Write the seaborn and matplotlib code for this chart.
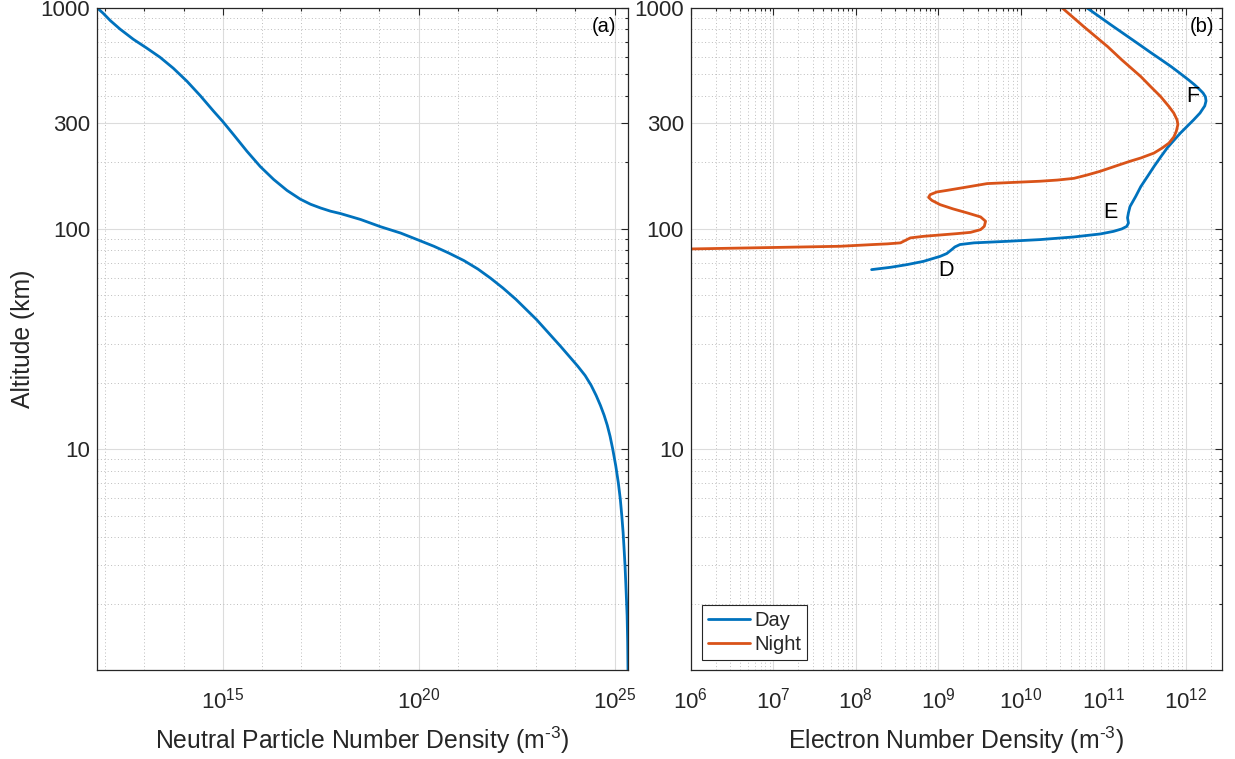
import matplotlib
matplotlib.use("Agg")
import numpy as np
import pandas as pd
import matplotlib.pyplot as plt
import seaborn as sns
from matplotlib.ticker import FixedLocator, FixedFormatter, LogLocator, NullFormatter

# ---------------- data ----------------
neutral_alt = [1000, 946, 877, 802, 721, 658, 598, 533, 465, 400, 340, 306, 266, 224,
               191, 167, 149, 136, 129, 124, 120, 117, 110, 102, 95.5, 89.1, 83.2,
               77.5, 71.7, 65.6, 59.7, 53.8, 47.8, 38.7, 29.3, 23.8, 21.6, 19.5,
               17.55, 15.8, 14.25, 12.85, 11.46, 10.0, 8.4, 7.06, 5.94, 4.99, 4.20,
               3.53, 2.96, 2.49, 2.09, 1.76, 1.33, 1.0]
neutral_density = [6.31e11, 8.91e11, 1.35e12, 2.40e12, 5.25e12, 1.15e13, 2.51e13,
                   5.50e13, 1.23e14, 2.69e14, 5.89e14, 1.0e15, 1.91e15, 4.17e15,
                   9.12e15, 2.0e16, 4.37e16, 9.55e16, 1.74e17, 3.16e17, 5.62e17,
                   1.02e18, 3.31e18, 1.07e19, 3.47e19, 9.33e19, 2.45e20,
                   5.89e20, 1.42e21, 3.25e21, 6.78e21, 1.42e22, 3.04e22, 1.02e23,
                   4.18e23, 1.15e24, 1.77e24, 2.52e24, 3.38e24, 4.36e24, 5.42e24,
                   6.51e24, 7.67e24, 8.99e24, 1.074e25, 1.245e25, 1.40e25, 1.53e25,
                   1.65e25, 1.75e25, 1.85e25, 1.93e25, 2.01e25, 2.09e25, 2.16e25,
                   2.20e25]

day_alt = [1000, 838, 680, 632, 582, 541, 502, 472, 449, 430, 412, 396, 379, 360,
           334, 311, 290, 271, 251, 232, 211, 191, 172, 155, 140, 126, 118, 112,
           106, 102.4, 99.7, 97.2, 94.6, 91.7, 89.2, 87.6, 86.2, 84.7, 82.6, 80.4,
           77.1, 74.9, 71.1, 68.7, 66.8, 65.2]
day_density = [6.31e10, 1.23e11, 2.75e11, 3.63e11, 5.01e11, 6.64e11, 8.65e11,
               1.07e12, 1.26e12, 1.43e12, 1.60e12, 1.71e12, 1.74e12, 1.68e12,
               1.47e12, 1.23e12, 1.02e12, 8.51e11, 7.08e11, 5.89e11, 4.90e11,
               4.07e11, 3.39e11, 2.82e11, 2.45e11, 2.09e11, 2.0e11, 1.95e11, 2.0e11,
               1.91e11, 1.66e11, 1.32e11, 9.12e10, 4.37e10, 1.70e10, 6.76e9, 2.69e9,
               1.82e9, 1.58e9, 1.45e9, 1.26e9, 1.05e9, 6.61e8, 4.17e8, 2.63e8, 1.55e8]

night_alt = [1000, 820, 668, 582, 533, 489, 440, 397, 358, 334, 311, 296, 276, 260,
             244, 232, 220, 209, 202, 193, 182, 175, 169, 166, 164, 162, 160,
             154.5, 149, 146.6, 142.6, 138.6, 134.3, 128.4, 122.8, 117.8, 113,
             108, 102.4, 99.0, 96.2, 94.9, 93.6, 92.3, 90.8, 88.5, 86.2, 85.3,
             84.7, 83.2, 82.6, 80.9, 80.8]
night_density = [3.16e10, 5.82e10, 1.12e11, 1.66e11, 2.17e11, 2.82e11, 3.72e11,
                 4.90e11, 6.17e11, 7.08e11, 7.76e11, 7.94e11, 7.59e11, 7.08e11,
                 6.17e11, 5.13e11, 4.07e11, 2.82e11, 2.09e11, 1.45e11, 9.12e10,
                 6.31e10, 4.37e10, 2.75e10, 1.70e10, 8.13e9, 3.89e9, 2.24e9, 1.26e9,
                 9.55e8, 7.94e8, 7.59e8, 8.32e8, 1.05e9, 1.51e9, 2.24e9, 3.24e9,
                 3.72e9, 3.59e9, 3.24e9, 2.45e9, 1.66e9, 1.05e9, 6.61e8, 4.57e8,
                 3.98e8, 3.47e8, 2.40e8, 1.62e8, 6.46e7, 2.29e7, 1.0e6, 7.9e5]

alt_ticks = [10, 100, 300, 1000]
alt_tick_labels = ["10", "100", "300", "1000"]
neutral_ticks = [1e15, 1e20, 1e25]
neutral_tick_labels = ["$10^{15}$", "$10^{20}$", "$10^{25}$"]
neutral_minor = [10.0 ** k for k in range(12, 26) if k not in (15, 20, 25)]
electron_ticks = [10.0 ** k for k in range(6, 13)]
electron_tick_labels = ["$10^{%d}$" % k for k in range(6, 13)]

layer_names = ["D", "E", "F"]
layer_x = [1.23e9, 1.2e11, 1.2e12]
layer_y = [64.6, 118, 396]

series_names = ["Day", "Night"]
blue = "#0072BD"
orange = "#D95319"

# ---------------- style ----------------
sns.set_theme(style="white")
plt.rcParams["font.family"] = ["Liberation Sans", "DejaVu Sans"]
plt.rcParams["mathtext.fontset"] = "custom"
plt.rcParams["mathtext.rm"] = "Liberation Sans"
plt.rcParams["mathtext.it"] = "Liberation Sans:italic"
plt.rcParams["mathtext.bf"] = "Liberation Sans:bold"
plt.rcParams["mathtext.default"] = "regular"

txt = "#262626"
fig = plt.figure(figsize=(12.35, 7.59), dpi=100)
ax1 = fig.add_axes([0.0788, 0.1173, 0.4297, 0.8722])
ax2 = fig.add_axes([0.5593, 0.1173, 0.4300, 0.8722])

df_n = pd.DataFrame({"density": neutral_density, "alt": neutral_alt})
df_d = pd.DataFrame({"density": day_density, "alt": day_alt})
df_ng = pd.DataFrame({"density": night_density, "alt": night_alt})

sns.lineplot(data=df_n, x="density", y="alt", sort=False, estimator=None,
             color=blue, linewidth=2.0, ax=ax1, legend=False)
sns.lineplot(data=df_d, x="density", y="alt", sort=False, estimator=None,
             color=blue, linewidth=2.0, ax=ax2, label=series_names[0])
sns.lineplot(data=df_ng, x="density", y="alt", sort=False, estimator=None,
             color=orange, linewidth=2.0, ax=ax2, label=series_names[1])

for ax in (ax1, ax2):
    ax.set_xscale("log")
    ax.set_yscale("log")
    ax.set_ylim(1, 1000)
    ax.yaxis.set_major_locator(FixedLocator(alt_ticks))
    ax.yaxis.set_major_formatter(FixedFormatter(alt_tick_labels))
    ax.yaxis.set_minor_locator(LogLocator(base=10, subs=[2, 3, 4, 5, 6, 7, 8, 9]))
    ax.yaxis.set_minor_formatter(NullFormatter())
    ax.grid(which="major", color="#dcdcdc", linestyle="-", linewidth=0.8)
    ax.grid(which="minor", color="#bdbdbd", linestyle=(0, (1, 2.5)), linewidth=0.7)
    ax.set_axisbelow(True)
    for s in ax.spines.values():
        s.set_color(txt)
        s.set_linewidth(0.9)
    ax.tick_params(which="both", direction="in", top=True, right=True,
                   color=txt, labelcolor=txt, width=0.8)
    ax.tick_params(which="major", length=5, labelsize=16)
    ax.tick_params(which="minor", length=2.5)
    ax.tick_params(axis="x", which="both", pad=13)
    ax.tick_params(axis="y", which="both", pad=5)
    ax.set_ylabel("")

ax1.set_xlim(min(neutral_density), max(neutral_density))
ax1.xaxis.set_major_locator(FixedLocator(neutral_ticks))
ax1.xaxis.set_major_formatter(FixedFormatter(neutral_tick_labels))
ax1.xaxis.set_minor_locator(FixedLocator(neutral_minor))
ax1.xaxis.set_minor_formatter(NullFormatter())

ax2.set_xlim(1e6, 2.7e12)
ax2.xaxis.set_major_locator(FixedLocator(electron_ticks))
ax2.xaxis.set_major_formatter(FixedFormatter(electron_tick_labels))
ax2.xaxis.set_minor_locator(LogLocator(base=10, subs=[2, 3, 4, 5, 6, 7, 8, 9]))
ax2.xaxis.set_minor_formatter(NullFormatter())

ax1.set_xlabel(r"Neutral Particle Number Density (m$^{\text{-}3}$)", fontsize=17.8,
               color=txt, labelpad=8)
ax2.set_xlabel(r"Electron Number Density (m$^{\text{-}3}$)", fontsize=17.8,
               color=txt, labelpad=8)
ax1.set_ylabel("Altitude (km)", fontsize=17.8, color=txt, labelpad=4)

ax1.text(0.978, 0.972, "(a)", transform=ax1.transAxes, ha="right", va="center",
         fontsize=14.5, color="black")
ax2.text(0.985, 0.972, "(b)", transform=ax2.transAxes, ha="right", va="center",
         fontsize=14.5, color="black")
for name, lx, ly in zip(layer_names, layer_x, layer_y):
    ax2.text(lx, ly, name, ha="center", va="center", fontsize=15.5, color="black")

leg = ax2.legend(loc="lower left", bbox_to_anchor=(0.021, 0.015), borderaxespad=0,
                 fontsize=14.5, frameon=True, fancybox=False, framealpha=1,
                 edgecolor=txt, handlelength=2.1, handletextpad=0.2,
                 borderpad=0.3, labelspacing=0.25)
leg.get_frame().set_linewidth(0.8)

fig.savefig("out.png", dpi=100)
